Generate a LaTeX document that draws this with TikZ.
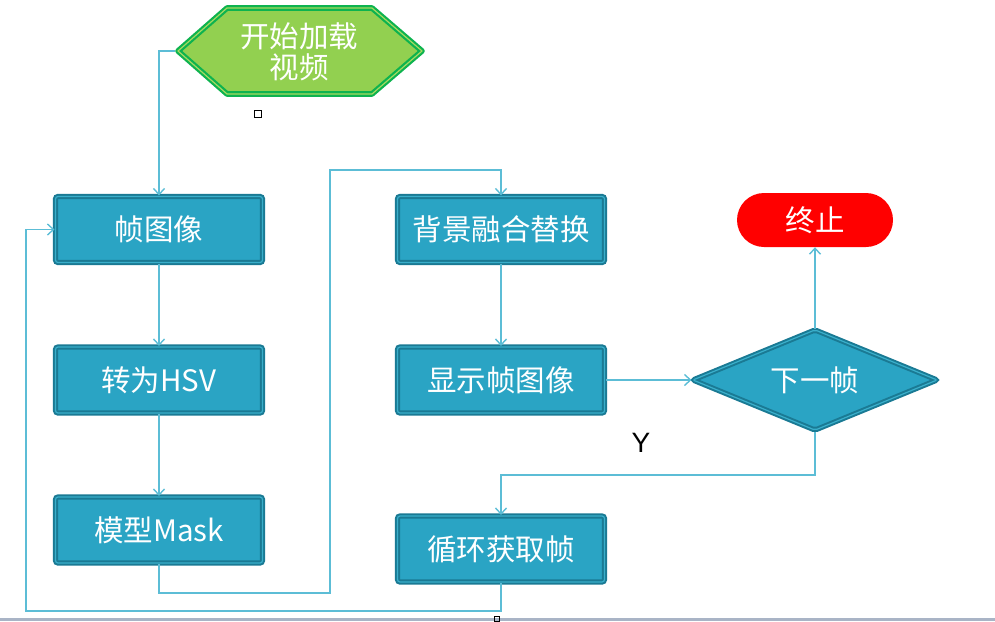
\documentclass[tikz,border=0pt]{standalone}
\usepackage{fontspec}
\newfontfamily\cjk{Noto Sans CJK SC}
\newfontfamily\lat{Liberation Sans}
\usetikzlibrary{arrows.meta,shapes.geometric,shapes.misc}
\definecolor{boxfill}{HTML}{2AA4C4}
\definecolor{boxdark}{HTML}{1A7A94}
\definecolor{boxmid}{HTML}{3AAFCB}
\definecolor{conn}{HTML}{5CBDD6}
\definecolor{hexfill}{HTML}{92D050}
\definecolor{hexdark}{HTML}{0DB34F}
\definecolor{hexmid}{HTML}{A6DA60}
\definecolor{band}{HTML}{A9B4C6}
\tikzset{
  txt/.style={text=white, font=\cjk\fontsize{29.5}{31}\selectfont},
  procbox/.style={txt, rectangle, rounded corners=2.5pt, fill=boxfill, draw=boxdark,
    double=boxmid, double distance=1.2pt, line width=2pt,
    minimum width=207pt, minimum height=66pt, inner sep=0pt},
  decision/.style={txt, diamond, aspect=2.36, fill=boxfill, draw=boxdark,
    double=boxmid, double distance=1.2pt, line width=2pt, rounded corners=2pt,
    minimum width=245pt, minimum height=101pt, inner sep=0pt},
  terminal/.style={txt, rounded rectangle, fill=red, draw=none,
    minimum width=156pt, minimum height=54pt, inner sep=0pt},
  flow/.style={draw=conn, line width=1.6pt, -{Straight Barb[length=6pt,width=11pt,line width=1.4pt]}},
}
\begin{document}
\begin{tikzpicture}[x=1pt, y=-1pt]
\useasboundingbox (0,0) rectangle (995,621);
\fill[band] (0,618) rectangle (995,621);

% start hexagon
\filldraw[fill=hexfill, draw=hexdark, double=hexmid, double distance=1.2pt, line width=2.2pt, line join=round]
  (178,51) -- (227,8) -- (372,8) -- (422,51) -- (372,94) -- (227,94) -- cycle;
\coordinate (hexL) at (175,51);
\node[txt, align=center] (start) at (299,52) {开始加载\\视频};
\draw[black, line width=1pt] (254,110) rectangle (261,117);
\draw[black, line width=0.8pt] (494.5,616.5) rectangle (499.5,621);

\node[procbox] (f1) at (159,229.5) {帧图像};
\node[procbox] (f2) at (159,380) {转为HSV};
\node[procbox] (f3) at (159,530) {模型Mask};
\node[procbox] (f4) at (501,229.5) {背景融合替换};
\node[procbox] (f5) at (501,380) {显示帧图像};
\node[procbox] (f6) at (501,549) {循环获取帧};
\node[decision] (dia) at (815,380) {下一帧};
\node[terminal] (end) at (815,220) {终止};
\node[font=\lat\fontsize{28}{30}\selectfont, text=black] (ylab) at (641,443) {Y};

\draw[flow] (hexL) -| (f1.north);
\draw[flow] (f1.south) -- (f2.north);
\draw[flow] (f2.south) -- (f3.north);
\draw[flow] (f3.south) |- (330,593) -- (330,170) -| (f4.north);
\draw[flow] (f4.south) -- (f5.north);
\draw[flow] (f5.east) -- (dia.west);
\draw[flow] (dia.north) -- (end.south);
\draw[flow] (dia.south) -- (815,475) -| (f6.north);
\draw[flow] (f6.south) |- (26,611) |- (f1.west);
\end{tikzpicture}
\end{document}
